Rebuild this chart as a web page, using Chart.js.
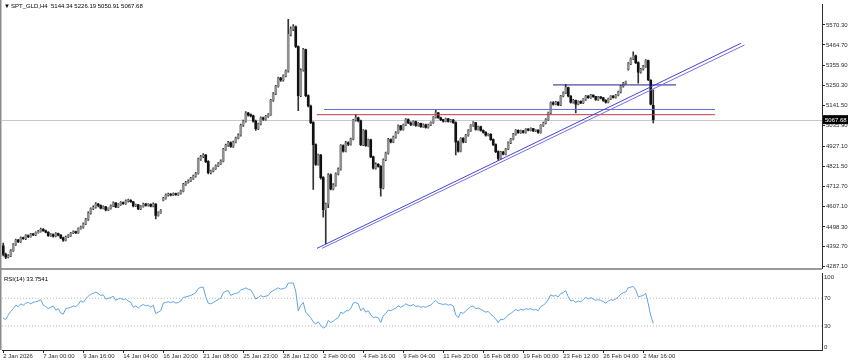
<!DOCTYPE html>
<html lang="en">
<head>
<meta charset="utf-8" />
<title>SPT_GLD,H4</title>
<script src="https://cdn.jsdelivr.net/npm/chart.js@4.4.1/dist/chart.umd.min.js"></script>
<style>
  body { margin: 0; background: #fff; }
  #wrap { position: relative; width: 850px; height: 364px; overflow: hidden; }
  canvas { position: absolute; left: 0; }
  #priceChart { top: 0; }
  #rsiChart { top: 268px; }
</style>
</head>
<body>
<div id="wrap">
  <canvas id="priceChart" width="850" height="274"></canvas>
  <canvas id="rsiChart" width="850" height="96"></canvas>
</div>
<script>
// SPT_GLD H4 candles, one entry per bar (2 Jan 2026 .. 2 Mar 2026)
const opens = [
  4398,4352,4338,4345,4372,4405,4428,4420,4441,4436,
  4452,4447,4460,4456,4468,4474,4486,4478,4470,4452,
  4458,4449,4463,4455,4440,4428,4445,4452,4466,4472,
  4468,4490,4497,4515,4538,4572,4595,4603,4620,4612,
  4598,4605,4588,4597,4610,4626,4604,4618,4628,4622,
  4636,4640,4632,4610,4616,4594,4607,4620,4612,4618,
  4608,4620,4560,4574,4640,4650,4668,4672,4668,4675,
  4670,4676,4688,4724,4735,4742,4756,4768,4782,4858,
  4872,4880,4845,4786,4795,4808,4822,4835,4848,4910,
  4932,4946,4925,4948,4970,4986,5038,5060,5102,5092,
  5088,5060,5020,5045,5078,5070,5085,5094,5170,5205,
  5245,5288,5278,5300,5326,5520,5548,5560,5456,5195,
  5330,5440,5195,5140,5052,4935,4830,4880,4760,4590,
  4620,4775,4700,4720,4780,4805,4930,4900,4945,4938,
  4965,5066,5078,5062,4935,5010,4930,4960,4870,4810,
  4830,4820,4705,4855,4890,4962,4950,4975,4998,5035,
  5016,5040,5068,5050,5042,5058,5037,5048,5030,5040,
  5026,5040,5052,5080,5104,5078,5068,5060,5072,5058,
  5066,5052,4950,4900,4968,4950,4985,5010,5037,5052,
  5016,5030,5010,5000,4985,4990,4962,4935,4898,4862,
  4896,4885,4912,4945,4964,4990,5011,4998,5008,5000,
  5016,5012,5020,5008,5012,5000,5037,5050,5068,5104,
  5157,5150,5160,5146,5193,5210,5238,5193,5160,5170,
  5150,5165,5157,5175,5193,5185,5198,5190,5175,5188,
  5183,5170,5160,5178,5193,5186,5198,5215,5245,5261,
  5335,5365,5391,5407,5370,5320,5335,5350,5381,5276,
  5144.34
];
const highs = [
  4412,4360,4352,4378,4410,4434,4432,4446,4445,4458,
  4456,4465,4463,4472,4480,4492,4490,4482,4474,4463,
  4462,4468,4466,4458,4444,4450,4458,4470,4478,4476,
  4494,4503,4520,4544,4578,4600,4610,4628,4624,4615,
  4610,4608,4600,4615,4632,4628,4622,4633,4632,4642,
  4646,4643,4634,4620,4618,4612,4625,4624,4622,4621,
  4626,4622,4578,4590,4656,4674,4678,4675,4680,4678,
  4680,4694,4730,4740,4748,4762,4774,4788,4864,4878,
  4888,4884,4850,4800,4812,4828,4840,4854,4915,4938,
  4952,4950,4954,4975,4992,5044,5066,5110,5106,5098,
  5092,5065,5050,5083,5082,5090,5100,5176,5212,5250,
  5294,5292,5306,5332,5600,5560,5572,5566,5460,5338,
  5446,5442,5200,5145,5058,4940,4885,4884,4766,4625,
  4782,4780,4728,4786,4812,4936,4934,4952,4950,4970,
  5070,5094,5082,5066,5015,5014,4965,4964,4874,4838,
  4834,4824,4860,4895,4968,4966,4980,5004,5040,5038,
  5044,5074,5072,5056,5062,5060,5052,5050,5045,5044,
  5044,5056,5084,5122,5106,5082,5070,5076,5075,5070,
  5070,5056,4955,4972,4972,4990,5015,5042,5058,5054,
  5034,5033,5014,5004,4994,4994,4966,4940,4902,4900,
  4900,4916,4950,4968,4995,5015,5014,5012,5010,5020,
  5020,5024,5022,5015,5014,5041,5055,5073,5108,5162,
  5164,5165,5164,5197,5215,5255,5240,5196,5175,5172,
  5168,5168,5179,5197,5196,5202,5200,5192,5191,5190,
  5186,5174,5182,5196,5195,5202,5219,5250,5266,5272,
  5370,5396,5428,5410,5374,5340,5356,5386,5384,5280,
  5226.19
];
const lows = [
  4345,4330,4334,4340,4368,4400,4415,4416,4432,4431,
  4442,4444,4452,4452,4465,4470,4474,4466,4448,4448,
  4444,4446,4450,4436,4422,4424,4441,4448,4462,4463,
  4464,4486,4492,4510,4533,4566,4590,4598,4605,4594,
  4594,4583,4585,4592,4606,4600,4600,4613,4618,4618,
  4630,4628,4605,4606,4590,4590,4603,4608,4608,4604,
  4604,4541,4556,4570,4636,4646,4662,4663,4664,4666,
  4666,4672,4684,4719,4730,4738,4751,4762,4778,4852,
  4866,4840,4780,4780,4790,4803,4818,4830,4844,4904,
  4926,4920,4920,4944,4965,4980,5032,5055,5086,5082,
  5055,5011,5015,5040,5064,5065,5080,5090,5164,5200,
  5240,5270,5272,5295,5320,5512,5540,5450,5115,5190,
  5325,5190,5135,5046,4697,4825,4826,4752,4550,4410,
  4600,4695,4695,4715,4775,4800,4895,4896,4930,4932,
  4960,5060,5056,4930,4930,4925,4925,4866,4805,4805,
  4815,4661,4700,4850,4885,4944,4946,4970,4994,5010,
  5012,5036,5046,5036,5038,5032,5033,5026,5026,5022,
  5022,5036,5048,5076,5074,5062,5055,5056,5055,5054,
  5048,4880,4895,4896,4944,4945,4980,5005,5032,5012,
  5012,5006,4996,4980,4982,4958,4930,4893,4850,4858,
  4880,4880,4908,4940,4960,4985,4994,4995,4996,4996,
  5008,5008,5004,5004,4995,4996,5032,5045,5063,5100,
  5144,5146,5142,5142,5188,5205,5188,5155,5155,5104,
  5146,5152,5152,5170,5180,5180,5186,5170,5170,5178,
  5165,5155,5156,5174,5182,5182,5194,5210,5240,5256,
  5330,5360,5386,5365,5261,5315,5330,5345,5275,5146,
  5050.91
];
const closes = [
  4352,4338,4345,4372,4405,4428,4420,4441,4436,4452,
  4447,4460,4456,4468,4474,4486,4478,4470,4452,4458,
  4449,4463,4455,4440,4428,4445,4452,4466,4472,4468,
  4490,4497,4515,4538,4572,4595,4603,4620,4612,4598,
  4605,4588,4597,4610,4626,4604,4618,4628,4622,4636,
  4640,4632,4610,4616,4594,4607,4620,4612,4618,4608,
  4620,4560,4574,4585,4650,4668,4672,4668,4675,4670,
  4676,4688,4724,4735,4742,4756,4768,4782,4858,4872,
  4880,4845,4786,4795,4808,4822,4835,4848,4910,4932,
  4946,4925,4948,4970,4986,5038,5060,5102,5092,5088,
  5060,5020,5045,5078,5070,5085,5094,5170,5205,5245,
  5288,5278,5300,5326,5520,5548,5560,5456,5195,5330,
  5440,5195,5140,5052,4935,4830,4880,4760,4590,4620,
  4775,4700,4720,4780,4805,4930,4900,4945,4938,4965,
  5066,5078,5062,4935,5010,4930,4960,4870,4810,4830,
  4820,4705,4855,4890,4962,4950,4975,4998,5035,5016,
  5040,5068,5050,5042,5058,5037,5048,5030,5040,5026,
  5040,5052,5080,5104,5078,5068,5060,5072,5058,5066,
  5052,4950,4900,4968,4950,4985,5010,5037,5052,5016,
  5030,5010,5000,4985,4990,4962,4935,4898,4862,4896,
  4885,4912,4945,4964,4990,5011,4998,5008,5000,5016,
  5012,5020,5008,5012,5000,5037,5050,5068,5104,5157,
  5150,5160,5146,5193,5210,5238,5193,5160,5170,5150,
  5165,5157,5175,5193,5185,5198,5190,5175,5188,5183,
  5170,5160,5178,5193,5186,5198,5215,5245,5261,5268,
  5365,5391,5407,5370,5320,5335,5350,5381,5280,5150,
  5067.68
];
// RSI(14), same bars
const rsiValues = [
  41,39.5,46,51,55,60,58,62,60,63,
  64,62,64,65,66,68,60,58,55,57,
  58.7,53,55,49,47,55,56,57,59,58,
  61,66.5,64,69,73,75.7,77,79,77,74,
  75,68.8,70,71,73,67,69,70,68,69,
  66,64,57,59,56,59,61,59,60,57,
  60,48,50,52,63,64,65,64,65,63,
  64,66,71,72,73,74,76,78,84,85.8,
  86,72,63,62,64,66,68,70,78,80,
  81,74,76,77,78,82,83,85,83,82,
  76,69,71,74,72,73,74,79,81,83,
  85,83,84,85,91.7,92,92,80,52,60,
  64,50,46,42,36,33,36,31,27,29,
  38,35,37,40,42,50,48,52,52,55,
  63,64,62,52,56,50,52,46,42,43,
  42,35,45,48,53,52,54,56,59,57,
  59,62,60,59,61,58,59,57,58,57,
  59,60,64,67,63,62,61,62,60,61,
  59,46,42,50,48,52,55,58,59,55,
  56,54,52,50,51,47,44,40,35,40,
  39,42,46,48,51,54,52,54,53,55,
  54,55,53,54,52,58,60,63,68,75,
  73,74,72,77,78,81,72,66,67,64,
  66,65,68,71,69,71,69,67,68,67,
  65,63,66,68,67,69,72,76,78,79,
  85,86,87,82,72,73,74,77,62,45,
  33.7541
];

const dateLabels = ["2 Jan 2026", "7 Jan 00:00", "9 Jan 16:00", "14 Jan 04:00", "16 Jan 20:00",
  "21 Jan 08:00", "25 Jan 23:00", "28 Jan 12:00", "2 Feb 00:00", "4 Feb 16:00", "9 Feb 04:00",
  "11 Feb 20:00", "16 Feb 08:00", "19 Feb 00:00", "23 Feb 12:00", "26 Feb 04:00", "2 Mar 16:00"];
const barsPerLabel = 16;
const priceTicks = [5570.30, 5464.70, 5355.90, 5250.30, 5141.50, 5035.90, 4927.10,
  4821.50, 4712.70, 4607.10, 4498.30, 4392.70, 4287.10];
const rsiTicks = [100, 70, 30, 0];
const rsiLevels = [70, 30];

// drawn objects: [bar from, bar to, price from, price to]
const blueLevel = [128.3, 284.7, 5121.7, 5121.7];
const redLevel = [125.4, 284.7, 5094.0, 5094.0];
const navyLevel = [219.9, 269.1, 5252.0, 5252.0];
const channelUpper = [125.5, 295.1, 4384.7, 5473.3];
const channelLower = [127.5, 296.5, 4384.7, 5464.0];

const header = "SPT_GLD,H4  5144.34 5226.19 5050.91 5067.68";
const rsiTitle = "RSI(14) 33.7541";
const lastPrice = 5067.68;

const totalSlots = 328;
const font = { family: "'Liberation Sans', Arial, sans-serif", size: 6 };
const axisInk = "#2b2b2b";

function seg(a) {
  return [{ x: a[0], y: a[2] }, { x: a[1], y: a[3] }];
}
function lineSet(pts, color, extra) {
  return Object.assign({
    type: "line", data: pts, borderColor: color, borderWidth: 1,
    pointRadius: 0, fill: false, tension: 0, order: 0,
  }, extra || {});
}

const bullish = closes.map((c, i) => c >= opens[i]);

const pricePlugin = {
  id: "mtPrice",
  beforeDatasetsDraw(chart) {
    const { ctx, chartArea } = chart;
    const y = Math.round(chart.scales.y.getPixelForValue(lastPrice)) + 0.5;
    ctx.save();
    ctx.strokeStyle = "#c8c8c8";
    ctx.lineWidth = 1;
    ctx.beginPath();
    ctx.moveTo(chartArea.left, y);
    ctx.lineTo(chartArea.right, y);
    ctx.stroke();
    ctx.restore();
  },
  afterDraw(chart) {
    const { ctx, chartArea } = chart;
    ctx.save();
    // left frame and window separator
    ctx.fillStyle = "#8c8c8c";
    ctx.fillRect(0, 0, 1.5, chartArea.bottom);
    ctx.fillStyle = "#9a9a9a";
    ctx.fillRect(0, chartArea.bottom, chartArea.right, 2);
    // current price tag
    const y = chart.scales.y.getPixelForValue(lastPrice);
    ctx.fillStyle = "#000";
    ctx.fillRect(chartArea.right + 1, y - 4.5, 25, 9);
    ctx.fillStyle = "#fff";
    ctx.font = `${font.size}px ${font.family}`;
    ctx.textBaseline = "middle";
    ctx.fillText(lastPrice.toFixed(2), chartArea.right + 3, y + 0.5);
    // header
    ctx.fillStyle = "#000";
    ctx.fillText("\u25BC", 4, 6);
    ctx.fillText(header, 11, 6);
    ctx.restore();
  },
};

const rsiPlugin = {
  id: "mtRsi",
  afterDraw(chart) {
    const { ctx, chartArea } = chart;
    ctx.save();
    ctx.fillStyle = "#8c8c8c";
    ctx.fillRect(0, 0, 1.5, chartArea.bottom);
    ctx.fillStyle = "#000";
    ctx.font = `${font.size}px ${font.family}`;
    ctx.textBaseline = "middle";
    ctx.fillText(rsiTitle, 4, chartArea.top + 6);
    ctx.restore();
  },
};

new Chart(document.getElementById("priceChart"), {
  type: "bar",
  data: {
    datasets: [
      lineSet(seg(channelUpper), "#4343d6"),
      lineSet(seg(channelLower), "#7a6ce6"),
      lineSet(seg(blueLevel), "#5f6fe8"),
      lineSet(seg(redLevel), "#c23a3a"),
      lineSet(seg(navyLevel), "#1f1f86"),
      {
        type: "bar",
        data: opens.map((o, i) => ({ x: i, y: [o, closes[i]] })),
        backgroundColor: bullish.map((b) => (b ? "#8f8f8f" : "#111")),
        barThickness: 2,
        minBarLength: 1,
        grouped: false,
        order: 1,
      },
      {
        type: "bar",
        data: lows.map((l, i) => ({ x: i, y: [l, highs[i]] })),
        backgroundColor: "#333",
        barThickness: 1,
        grouped: false,
        order: 2,
      },
    ],
  },
  options: {
    responsive: false,
    animation: false,
    events: [],
    layout: { padding: { left: 2, top: 0, right: 0, bottom: 6 } },
    plugins: { legend: { display: false }, tooltip: { enabled: false } },
    scales: {
      x: { type: "linear", display: false, min: -0.5, max: totalSlots - 0.5, offset: false },
      y: {
        position: "right",
        min: 4280.4,
        max: 5678.3,
        afterBuildTicks: (s) => { s.ticks = priceTicks.map((v) => ({ value: v })); },
        afterFit: (s) => { s.width = 28; },
        ticks: { callback: (v) => Number(v).toFixed(2), font, color: axisInk, padding: 1, autoSkip: false },
        grid: { drawOnChartArea: false, tickLength: 3, color: axisInk },
        border: { color: axisInk },
      },
    },
  },
  plugins: [pricePlugin],
});

new Chart(document.getElementById("rsiChart"), {
  type: "line",
  data: {
    datasets: [
      lineSet(rsiValues.map((v, i) => ({ x: i, y: v })), "#5ea4e4"),
      ...rsiLevels.map((lv) => lineSet([{ x: -0.5, y: lv }, { x: totalSlots - 0.5, y: lv }], "#bdbdbd",
        { borderDash: [1, 2], order: 1 })),
    ],
  },
  options: {
    responsive: false,
    animation: false,
    events: [],
    layout: { padding: { left: 2, top: 2, right: 0, bottom: 0 } },
    plugins: { legend: { display: false }, tooltip: { enabled: false } },
    scales: {
      x: {
        type: "linear",
        min: -0.5,
        max: totalSlots - 0.5,
        offset: false,
        afterBuildTicks: (s) => { s.ticks = dateLabels.map((_, k) => ({ value: k * barsPerLabel })); },
        afterFit: (s) => { s.height = 14; },
        ticks: {
          callback: (v) => dateLabels[Math.round(v / barsPerLabel)],
          align: "start", maxRotation: 0, autoSkip: false, font, color: axisInk, padding: 0,
        },
        grid: { drawOnChartArea: false, tickLength: 3, color: axisInk },
        border: { color: axisInk },
      },
      y: {
        position: "right",
        min: -4.5,
        max: 105.5,
        afterBuildTicks: (s) => { s.ticks = rsiTicks.map((v) => ({ value: v })); },
        afterFit: (s) => { s.width = 28; },
        ticks: { font, color: axisInk, padding: 2, autoSkip: false },
        grid: { drawOnChartArea: false, drawTicks: false },
        border: { color: axisInk },
      },
    },
  },
  plugins: [rsiPlugin],
});
</script>
</body>
</html>
